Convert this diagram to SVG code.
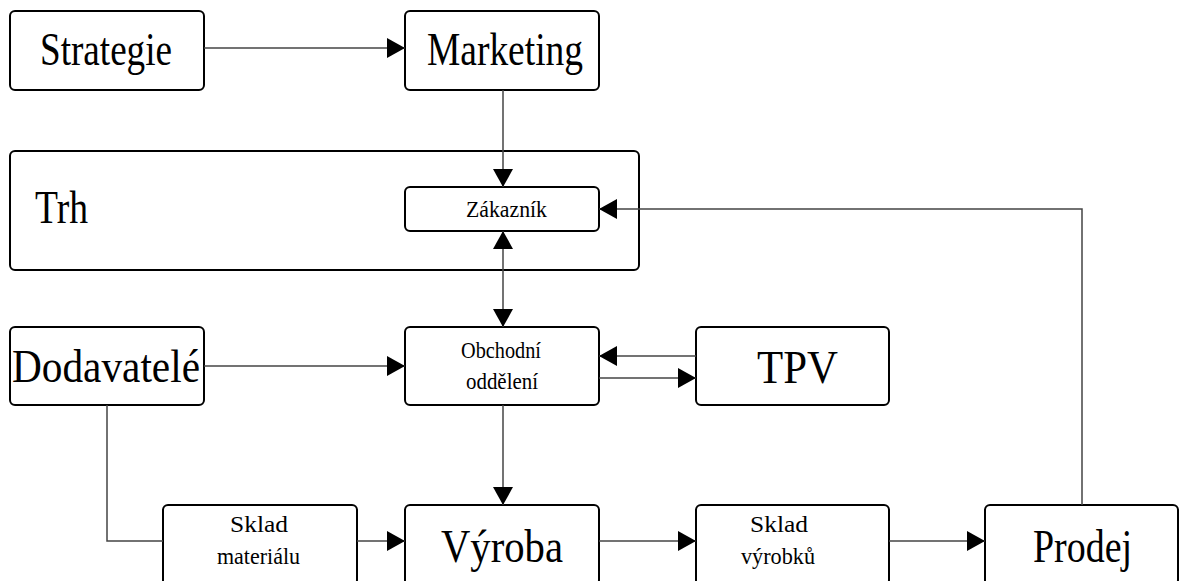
<svg xmlns="http://www.w3.org/2000/svg" width="1179" height="581" viewBox="0 0 1179 581">
<style>
.box{fill:#fff;stroke:#000;stroke-width:2}
.big{font-family:"Liberation Serif","Times New Roman",serif;font-size:46px;fill:#000}
.small{font-family:"Liberation Serif","Times New Roman",serif;font-size:24px;fill:#000}
.conn path{fill:none;stroke:#444;stroke-width:1.5}
</style>
<defs>
<marker id="ah" markerUnits="userSpaceOnUse" markerWidth="18" markerHeight="20" refX="18" refY="10" orient="auto-start-reverse">
<path d="M0,0 L18,10 L0,20 Z" fill="#000"/>
</marker>
</defs>
<rect width="1179" height="581" fill="#fff"/>
<g id="trh"><rect class="box" x="10" y="151" width="629" height="119" rx="5"/>
<text class="big" x="35" y="223" textLength="53" lengthAdjust="spacingAndGlyphs">Trh</text></g>
<g id="strategie"><rect class="box" x="10" y="11" width="194" height="79" rx="5"/>
<text class="big" x="40" y="65" textLength="132" lengthAdjust="spacingAndGlyphs">Strategie</text></g>
<g id="marketing"><rect class="box" x="405" y="11" width="194" height="79" rx="5"/>
<text class="big" x="427" y="65" textLength="156" lengthAdjust="spacingAndGlyphs">Marketing</text></g>
<g id="zakaznik"><rect class="box" x="405" y="187" width="194" height="44" rx="5"/>
<text class="small" x="466" y="217" textLength="81" lengthAdjust="spacingAndGlyphs">Zákazník</text></g>
<g id="dodavatele"><rect class="box" x="10" y="327" width="194" height="78" rx="5"/>
<text class="big" x="12" y="382" textLength="188" lengthAdjust="spacingAndGlyphs">Dodavatelé</text></g>
<g id="obchodni"><rect class="box" x="405" y="327" width="194" height="78" rx="5"/>
<text class="small" x="461" y="358" textLength="80" lengthAdjust="spacingAndGlyphs">Obchodní</text>
<text class="small" x="466" y="389" textLength="72" lengthAdjust="spacingAndGlyphs">oddělení</text></g>
<g id="tpv"><rect class="box" x="696" y="327" width="193" height="78" rx="5"/>
<text class="big" x="757" y="383" textLength="81" lengthAdjust="spacingAndGlyphs">TPV</text></g>
<g id="sklad-materialu"><rect class="box" x="163" y="505" width="194" height="80" rx="5"/>
<text class="small" x="230" y="532" textLength="58" lengthAdjust="spacingAndGlyphs">Sklad</text>
<text class="small" x="217" y="564" textLength="83" lengthAdjust="spacingAndGlyphs">materiálu</text></g>
<g id="vyroba"><rect class="box" x="405" y="505" width="194" height="80" rx="5"/>
<text class="big" x="441" y="562" textLength="122" lengthAdjust="spacingAndGlyphs">Výroba</text></g>
<g id="sklad-vyrobku"><rect class="box" x="696" y="505" width="193" height="80" rx="5"/>
<text class="small" x="750" y="532" textLength="58" lengthAdjust="spacingAndGlyphs">Sklad</text>
<text class="small" x="741" y="564" textLength="74" lengthAdjust="spacingAndGlyphs">výrobků</text></g>
<g id="prodej"><rect class="box" x="985" y="505" width="193" height="80" rx="5"/>
<text class="big" x="1033" y="562" textLength="99" lengthAdjust="spacingAndGlyphs">Prodej</text></g>
<g class="conn" id="connectors">
<path d="M204,48 H405" marker-end="url(#ah)"/>
<path d="M503,90 V187" marker-end="url(#ah)"/>
<path d="M503,231 V327" marker-start="url(#ah)" marker-end="url(#ah)"/>
<path d="M1082,505 V209 H599" marker-end="url(#ah)"/>
<path d="M204,366 H405" marker-end="url(#ah)"/>
<path d="M696,356 H599" marker-end="url(#ah)"/>
<path d="M599,378 H696" marker-end="url(#ah)"/>
<path d="M503,405 V505" marker-end="url(#ah)"/>
<path d="M107,405 V541 H163"/>
<path d="M357,541 H405" marker-end="url(#ah)"/>
<path d="M599,541 H696" marker-end="url(#ah)"/>
<path d="M889,541 H985" marker-end="url(#ah)"/>
</g>
</svg>
